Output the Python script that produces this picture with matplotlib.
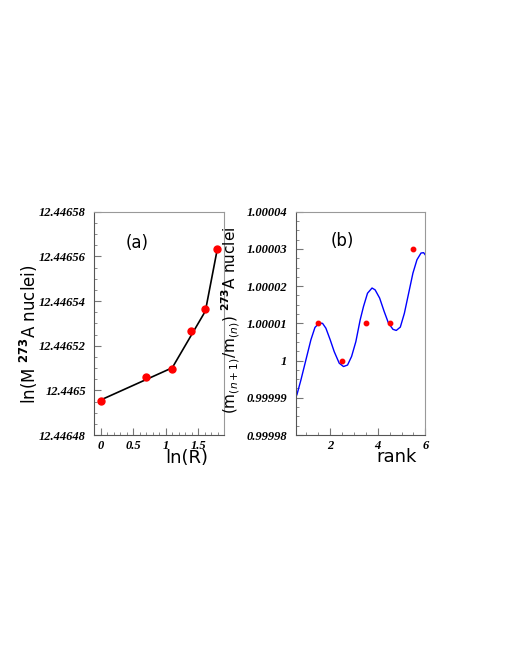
import matplotlib
matplotlib.use('Agg')
import matplotlib.pyplot as plt
from matplotlib.ticker import MultipleLocator, FuncFormatter

# panel (a): mass vs ln(R)
ln_r = [0.0, 0.693, 1.099, 1.386, 1.609, 1.792]
ln_mass = [12.4464954, 12.4465058, 12.4465094, 12.4465266, 12.4465364, 12.4465632]
# black guide line through some of the points
line_x = [0.0, 1.099, 1.609, 1.792]
line_y = [12.4464957, 12.4465101, 12.4465355, 12.4465632]

# panel (b): mass ratio vs rank
rank = [1.5, 2.5, 3.5, 4.5, 5.5]
ratio = [1.00001, 1.0, 1.00001, 1.00001, 1.00003]
# blue curve (units of 1e-5 above 1)
curve_x = [0.60, 0.77, 0.98, 1.19, 1.36, 1.54, 1.68, 1.82, 2.00, 2.17, 2.38, 2.56,
           2.73, 2.90, 3.08, 3.26, 3.40, 3.57, 3.76, 3.89, 4.08, 4.27, 4.45, 4.64,
           4.78, 4.95, 5.12, 5.30, 5.48, 5.65, 5.82, 5.93, 6.00]
curve_d = [-0.92, -0.52, 0.02, 0.56, 0.89, 1.01, 1.00, 0.87, 0.56, 0.24, -0.07, -0.16,
           -0.12, 0.11, 0.51, 1.09, 1.45, 1.81, 1.95, 1.90, 1.68, 1.32, 1.01, 0.84,
           0.81, 0.90, 1.27, 1.81, 2.35, 2.71, 2.89, 2.90, 2.84]
curve_y = [1 + d * 1e-5 for d in curve_d]

tickfont = dict(family='Liberation Serif', weight='bold', style='italic', size=9)


def fmt(v, pos):
    s = f'{v:.5f}'.rstrip('0').rstrip('.')
    if s == '-0':
        s = '0'
    return s


def style_axes(ax):
    for side in ['left', 'bottom']:
        ax.spines[side].set_color('#555555')
    for side in ['top', 'right']:
        ax.spines[side].set_color('#999999')
    ax.tick_params(which='both', direction='in', colors='#777777', top=False, right=False)
    ax.tick_params(which='major', length=5, pad=6)
    ax.tick_params(which='minor', length=2.5)
    ax.tick_params(axis='x', which='major', pad=3.5)
    ax.xaxis.set_major_formatter(FuncFormatter(fmt))
    ax.yaxis.set_major_formatter(FuncFormatter(fmt))
    for lab in ax.get_xticklabels() + ax.get_yticklabels():
        lab.set_fontproperties(matplotlib.font_manager.FontProperties(**tickfont))
        lab.set_color('black')


fig = plt.figure(figsize=(5.1, 6.6), dpi=100)
ax1 = fig.add_axes([0.1849, 0.3409, 0.2549, 0.3383])
ax2 = fig.add_axes([0.5798, 0.3409, 0.2541, 0.3383])

ax1.plot(line_x, line_y, color='black', lw=1.2, zorder=2)
ax1.plot(ln_r, ln_mass, 'o', color='red', ms=5, zorder=3)
ax1.set_xlim(-0.1, 1.9)
ax1.set_ylim(12.44648, 12.44658)
ax1.xaxis.set_major_locator(MultipleLocator(0.5))
ax1.xaxis.set_minor_locator(MultipleLocator(0.1))
ax1.yaxis.set_major_locator(MultipleLocator(0.00002))
ax1.yaxis.set_minor_locator(MultipleLocator(0.000005))
style_axes(ax1)
ax1.set_xlabel('ln(R)', fontsize=13)
ax1.xaxis.set_label_coords(0.713, -0.062)
ax1.set_ylabel(r'ln(M $^{\mathbf{273}}$A nuclei)', fontsize=12)
ax1.yaxis.set_label_coords(-0.418, 0.452)
ax1.text(0.33, 0.86, '(a)', transform=ax1.transAxes, fontsize=12, ha='center', va='center')

ax2.plot(curve_x, curve_y, color='blue', lw=1.0, zorder=2)
ax2.plot(rank, ratio, 'o', color='red', ms=3.2, zorder=3)
ax2.set_xlim(0.55, 6.0)
ax2.set_ylim(0.99998, 1.00004)
ax2.xaxis.set_major_locator(MultipleLocator(2))
ax2.xaxis.set_minor_locator(MultipleLocator(0.5))
ax2.yaxis.set_major_locator(MultipleLocator(0.00001))
ax2.yaxis.set_minor_locator(MultipleLocator(0.0000025))
style_axes(ax2)
ax2.set_xlabel('rank', fontsize=13)
ax2.xaxis.set_label_coords(0.782, -0.058)
ax2.set_ylabel(r'$\left(\mathrm{m}_{(n+1)}/\mathrm{m}_{(n)}\right)$ $^{\mathbf{273}}$A nuclei', fontsize=11)
ax2.yaxis.set_label_coords(-0.414, 0.515)
ax2.text(0.36, 0.87, '(b)', transform=ax2.transAxes, fontsize=12, ha='center', va='center')

fig.savefig('out.png', dpi=100)
